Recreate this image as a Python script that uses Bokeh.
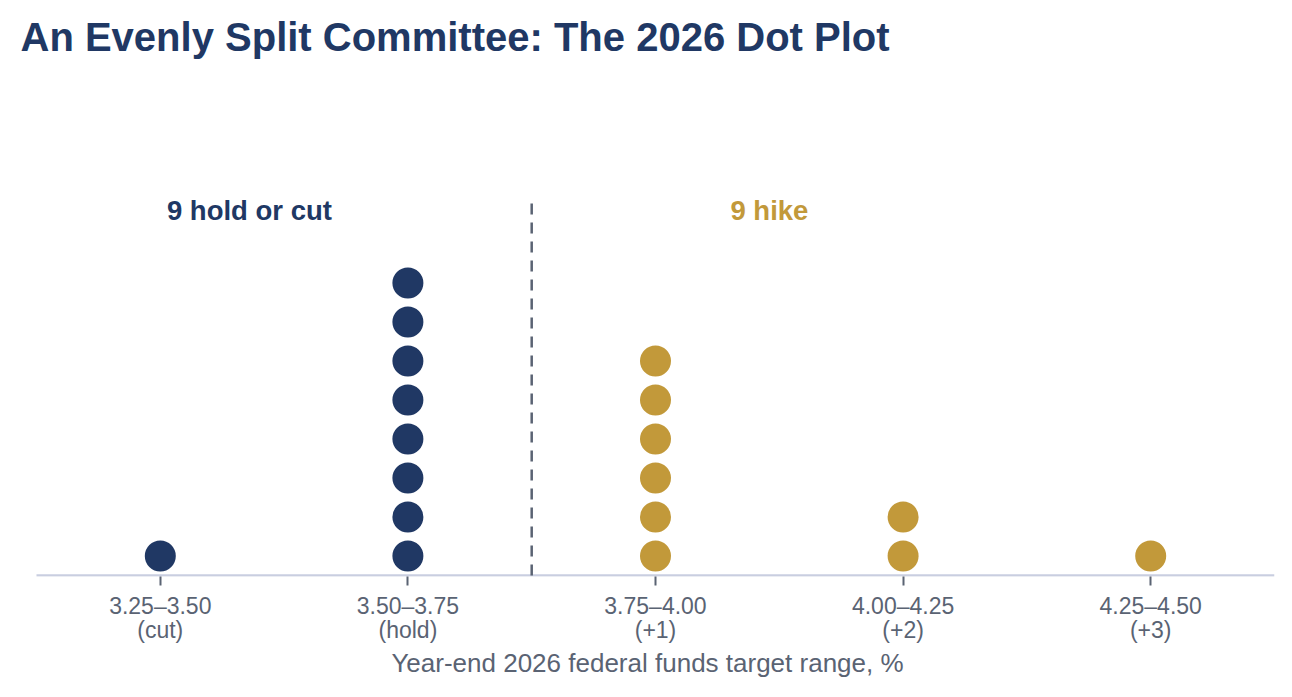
from bokeh.plotting import figure
from bokeh.models import ColumnDataSource, Range1d, FixedTicker, Label, LinearAxis
from bokeh.embed import file_html
from bokeh.resources import INLINE

# ---- data ----
ranges = ["3.25–3.50", "3.50–3.75", "3.75–4.00", "4.00–4.25", "4.25–4.50"]
moves = ["(cut)", "(hold)", "(+1)", "(+2)", "(+3)"]
counts = [1, 8, 6, 2, 1]
groups = ["dove", "dove", "hike", "hike", "hike"]
group_labels = ["9 hold or cut", "9 hike"]
title = "An Evenly Split Committee: The 2026 Dot Plot"

NAVY = "#203864"
GOLD = "#c2993a"
GRAY = "#5a6373"
FONT = "Liberation Sans"

xs, ys, cs = [], [], []
for i, (n, g) in enumerate(zip(counts, groups)):
    for k in range(n):
        xs.append(i)
        ys.append(k + 0.5)
        cs.append(NAVY if g == "dove" else GOLD)
src = ColumnDataSource(dict(x=xs, y=ys, c=cs))

cat_x = list(range(len(ranges)))
X0 = -0.5646  # leaves room on the left for the title

p = figure(width=1292, height=697, output_backend="svg", toolbar_location=None,
           x_range=Range1d(X0, 4.5), y_range=Range1d(-0.0256, 14.744),
           min_border_left=20, min_border_right=18, min_border_top=0,
           min_border_bottom=121)
p.outline_line_color = None
p.background_fill_color = "white"
p.border_fill_color = "white"
p.grid.visible = False
p.yaxis.visible = False

ax = p.xaxis[0]
ax.ticker = FixedTicker(ticks=cat_x)
ax.major_label_overrides = {i: r for i, r in zip(cat_x, ranges)}
ax.axis_line_color = None
ax.major_tick_line_color = GRAY
ax.major_tick_line_width = 2
ax.major_tick_in = 0
ax.major_tick_out = 9
ax.minor_tick_line_color = None
ax.major_label_text_font = FONT
ax.major_label_text_font_size = "23px"
ax.major_label_text_color = GRAY
ax.major_label_standoff = 7

ax2 = LinearAxis(ticker=FixedTicker(ticks=cat_x),
                 major_label_overrides={i: m for i, m in zip(cat_x, moves)})
ax2.axis_line_color = None
ax2.major_tick_line_color = None
ax2.minor_tick_line_color = None
ax2.major_tick_in = 0
ax2.major_tick_out = 0
ax2.major_label_text_font = FONT
ax2.major_label_text_font_size = "23px"
ax2.major_label_text_color = GRAY
ax2.major_label_standoff = -5
ax2.axis_label = "Year-end 2026 federal funds target range, %"
ax2.axis_label_text_font = FONT
ax2.axis_label_text_font_size = "26px"
ax2.axis_label_text_font_style = "normal"
ax2.axis_label_text_color = GRAY
ax2.axis_label_standoff = 2
p.add_layout(ax2, "below")

# baseline (axis line) across the category span
p.segment(x0=[cat_x[0] - 0.5], y0=[0], x1=[cat_x[-1] + 0.5], y1=[0],
          line_color="#c9cee0", line_width=2.5)

p.scatter("x", "y", source=src, size=31, fill_color="c", line_color=None)

p.segment(x0=[1.5], y0=[0], x1=[1.5], y1=[9.67], line_color=GRAY,
          line_width=2.5, line_dash="11 8")

p.add_layout(Label(x=0.36, y=9.36, text=group_labels[0], text_font=FONT,
                   text_font_size="27.5px", text_font_style="bold",
                   text_color=NAVY, text_align="center", text_baseline="middle"))
p.add_layout(Label(x=2.46, y=9.36, text=group_labels[1], text_font=FONT,
                   text_font_size="27.5px", text_font_style="bold",
                   text_color=GOLD, text_align="center", text_baseline="middle"))

p.add_layout(Label(x=X0, y=13.82, text=title, text_font=FONT,
                   text_font_size="40px", text_font_style="bold",
                   text_color=NAVY, text_align="left", text_baseline="middle"))

open("out.html", "w").write(file_html(p, INLINE))
